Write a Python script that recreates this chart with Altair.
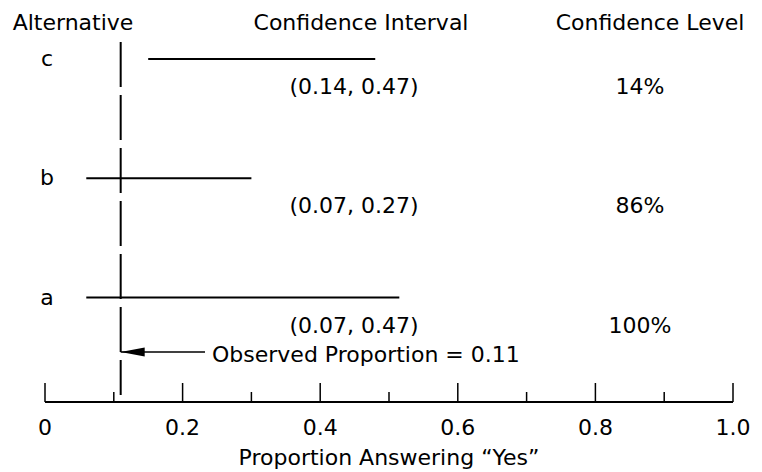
import altair as alt
import pandas as pd

# ---- data ----
alternatives = ["c", "b", "a"]
row_order = [3, 2, 1]
ci_low_drawn = [0.15, 0.06, 0.06]
ci_high_drawn = [0.48, 0.30, 0.515]
ci_labels = ["(0.14, 0.47)", "(0.07, 0.27)", "(0.07, 0.47)"]
conf_levels = ["14%", "86%", "100%"]
observed = [0.11]
major_ticks = [0, 0.2, 0.4, 0.6, 0.8, 1.0]
major_tick_labels = ["0", "0.2", "0.4", "0.6", "0.8", "1.0"]
minor_ticks = [0.1, 0.3, 0.5, 0.7, 0.9]
axis_range = [0, 1]
headers = ["Alternative", "Confidence Interval", "Confidence Level"]
obs_label = ["Observed Proportion = 0.11"]
x_title = "Proportion Answering \u201cYes\u201d"

# ---- style ----
FONT = "DejaVu Sans"
FS = 22
W, H = 688, 364

rows = pd.DataFrame({
    "alt": alternatives, "pos": row_order,
    "lo": ci_low_drawn, "hi": ci_high_drawn,
    "ci": ci_labels, "lvl": conf_levels,
})
obs_df = pd.DataFrame({"v": observed})
major_df = pd.DataFrame({"v": major_ticks, "lab": major_tick_labels})

xscale = alt.Scale(domain=[0, 1], nice=False, zero=False)
yscale = alt.Scale(domain=[0.124, 3.176], nice=False, zero=False)


def X(field):
    return alt.X(field, scale=xscale, axis=None)


Y = alt.Y("pos:Q", scale=yscale, axis=None)

intervals = alt.Chart(rows).mark_rule(color="black", strokeWidth=2).encode(
    x=X("lo:Q"), x2="hi:Q", y=Y)

txt = dict(font=FONT, fontSize=FS, color="black", baseline="alphabetic")

letters = alt.Chart(rows).mark_text(align="center", dy=7, **txt).encode(
    x=alt.value(2), y=Y, text="alt:N")
ci_text = alt.Chart(rows).mark_text(align="center", dy=35, **txt).encode(
    x=alt.value(309), y=Y, text="ci:N")
lvl_text = alt.Chart(rows).mark_text(align="center", dy=35, **txt).encode(
    x=alt.value(595), y=Y, text="lvl:N")


def label(text, x, y, align="center"):
    return alt.Chart(pd.DataFrame({"t": [text]})).mark_text(align=align, **txt).encode(
        x=alt.value(x), y=alt.value(y), text="t:N")


head_layers = [
    label(headers[0], 28, -8),
    label(headers[1], 316, -8),
    label(headers[2], 605, -8),
]

# axis drawn by hand: baseline, inward ticks, labels, title
baseline = alt.Chart(pd.DataFrame({"a": [axis_range[0]], "b": [axis_range[1]]})).mark_rule(
    color="black", strokeWidth=2).encode(x=X("a:Q"), x2="b:Q", y=alt.value(H))
major = alt.Chart(major_df).mark_rule(color="black", strokeWidth=1.5).encode(
    x=X("v:Q"), y=alt.value(H), y2=alt.value(H - 19))
minor = alt.Chart(pd.DataFrame({"v": minor_ticks})).mark_rule(color="black", strokeWidth=1.5).encode(
    x=X("v:Q"), y=alt.value(H), y2=alt.value(H - 10))
tick_text = alt.Chart(major_df).mark_text(align="center", **txt).encode(
    x=X("v:Q"), y=alt.value(H + 33), text="lab:N")
title_text = label(x_title, W / 2, H + 63)

obs_line = alt.Chart(obs_df).mark_rule(color="black", strokeWidth=2, strokeDash=[45, 8]).encode(
    x=X("v:Q"), y=alt.value(4), y2=alt.value(357))
arrow_shaft = alt.Chart(obs_df).mark_rule(color="black", strokeWidth=1.5).encode(
    x=X("v:Q"), x2=alt.value(160), y=alt.value(314))
arrow_head = alt.Chart(obs_df).mark_point(
    shape="M0,0L2,-0.38L2,0.38Z", size=576, filled=True, color="black",
    opacity=1, strokeWidth=0).encode(x=X("v:Q"), y=alt.value(314))
obs_text = label(obs_label[0], 167, 324, align="left")

chart = alt.layer(
    baseline, major, minor, tick_text, title_text,
    intervals, obs_line, arrow_shaft, arrow_head,
    letters, ci_text, lvl_text, obs_text, *head_layers,
).properties(
    width=W, height=H,
    autosize=alt.AutoSizeParams(type="none"),
    padding={"left": 37, "top": 30, "right": 21, "bottom": 70},
).configure_view(stroke=None)

chart.save("out.html", embed_options={"renderer": "svg", "actions": False})
